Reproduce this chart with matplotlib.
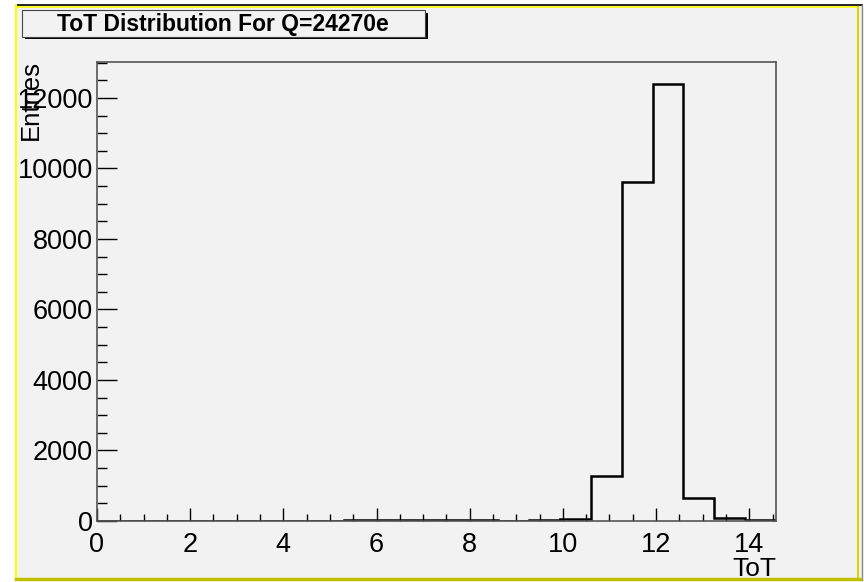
import numpy as np
import matplotlib.pyplot as plt
from matplotlib.patches import Rectangle
from matplotlib.lines import Line2D

# ==============================================
#              DATA
# ==============================================
title = "ToT Distribution For Q=24270e"
x_title = "ToT"
y_title = "Entries"
n_bins = 22
x_max = 14.575
counts = [0, 0, 0, 0, 0, 0, 0, 0,
          40, 40, 40, 40, 40,
          0, 40, 70,
          1290, 9620, 12400, 655, 95, 25]

# ==============================================
#              FIGURE
# ==============================================
W, H = 864, 582
fig = plt.figure(figsize=(W / 100, H / 100), dpi=100, facecolor="white")
plt.rcParams['font.family'] = ['Liberation Sans', 'DejaVu Sans']

bg = "#f2f2f2"


def fx(px):
    return px / W


def fy(py):
    return 1 - py / H


# canvas background + coloured border (ROOT pad look)
fig.patches.append(Rectangle((fx(16), fy(580)), fx(862) - fx(16), fy(5) - fy(580),
                             transform=fig.transFigure, facecolor=bg, edgecolor="none", zorder=-10))
fig.lines.append(Line2D([fx(16), fx(862)], [fy(5), fy(5)], transform=fig.transFigure, color="black", lw=1.2))
fig.lines.append(Line2D([fx(16), fx(858)], [fy(7), fy(7)], transform=fig.transFigure, color="#ffff00", lw=1.2))
fig.lines.append(Line2D([fx(16), fx(16)], [fy(5), fy(580)], transform=fig.transFigure, color="#ffff00", lw=1.5))
fig.lines.append(Line2D([fx(858), fx(858)], [fy(7), fy(579)], transform=fig.transFigure, color="#d8d800", lw=1.5))
fig.lines.append(Line2D([fx(862), fx(862)], [fy(5), fy(580)], transform=fig.transFigure, color="#888888", lw=1.0))
fig.lines.append(Line2D([fx(16), fx(860)], [fy(579), fy(579)], transform=fig.transFigure, color="#c0c000", lw=2.5))

# title box with shadow
fig.patches.append(Rectangle((fx(25), fy(39)), fx(428) - fx(25), fy(13) - fy(39),
                             transform=fig.transFigure, facecolor="black", edgecolor="none", zorder=1))
fig.patches.append(Rectangle((fx(22), fy(37)), fx(425) - fx(22), fy(10) - fy(37),
                             transform=fig.transFigure, facecolor=bg, edgecolor="#444444", lw=0.8, zorder=2))
fig.text(fx(223), fy(24), title, ha="center", va="center", fontsize=16.5, fontweight="bold", zorder=3)

# ==============================================
#              HISTOGRAM
# ==============================================
ax = fig.add_axes([fx(97), fy(521), fx(776) - fx(97), fy(62) - fy(521)])
ax.set_zorder(5)
ax.set_facecolor(bg)
edges = np.linspace(0, x_max, n_bins + 1)
ax.stairs(counts, edges, color="black", lw=1.8, baseline=0)
ax.set_xlim(0, x_max)
ax.set_ylim(0, 1.05 * max(counts))

ax.set_xticks(np.arange(0, 15, 2))
ax.set_xticks(np.arange(0, 14.6, 0.5), minor=True)
ax.set_yticks(np.arange(0, 12001, 2000))
ax.set_yticks(np.arange(0, 13001, 500), minor=True)
ax.tick_params(axis="x", which="major", direction="in", length=9.5, width=1, pad=8, labelsize=19.5)
ax.tick_params(axis="x", which="minor", direction="in", length=4.7, width=1)
ax.tick_params(axis="y", which="major", direction="in", length=14.5, width=1, pad=3, labelsize=19.5)
ax.tick_params(axis="y", which="minor", direction="in", length=7.2, width=1)
for s in ax.spines.values():
    s.set_color("#555555")
    s.set_linewidth(1.2)

fig.text(fx(776), fy(569), x_title, ha="right", va="center", fontsize=19, zorder=6)
fig.text(fx(31), fy(60), y_title, ha="center", va="top", rotation=90, fontsize=18.5, zorder=6)

plt.savefig("out.png", dpi=100, facecolor="white")
